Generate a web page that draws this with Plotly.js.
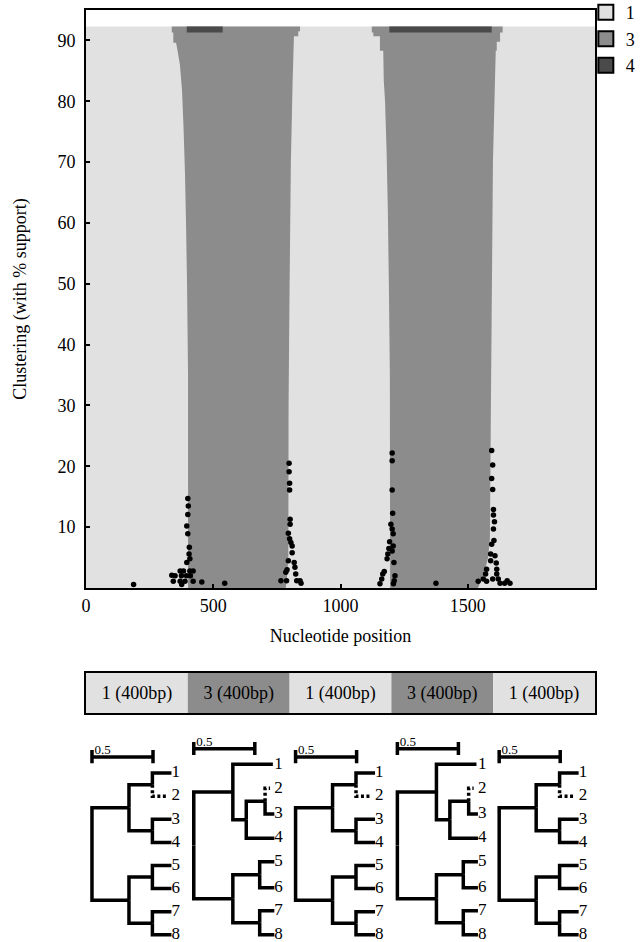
<!DOCTYPE html>
<html><head><meta charset="utf-8">
<script src="https://cdn.plot.ly/plotly-3.0.1.min.js"></script>
<style>body{margin:0;background:#fff}</style>
</head><body><div id="chart" style="width:642px;height:942px"></div>
<script>
// ---------------- data ----------------
const seqLength = 2000;
const maxSupport = 92.3;
const clusterNames = ['1', '3', '4'];
const clusterColors = ['#e1e1e1', '#8c8c8c', '#4a4a4a'];

// cluster-3 bands: boundary position (bp) at each support level
const band1LeftLevels  = [0, 35, 50, 60, 68, 76, 82, 86, 88, 89.6, 89.6, 91.3, 91.3, 92.3];
const band1LeftPos     = [401, 401, 397, 393, 389, 383, 377, 369, 361, 354, 343, 343, 337, 337];
const band1RightLevels = [0, 2, 5, 30, 50, 70, 83.4, 90.7, 90.7, 91.5, 91.5, 92.3];
const band1RightPos    = [785, 790, 795, 796, 800, 805, 812, 817, 834, 834, 841, 841];
const band2LeftLevels  = [0, 35, 50, 62, 72, 80, 83.4, 88.3, 88.3, 90.7, 90.7, 91.3, 91.3, 92.3];
const band2LeftPos     = [1195, 1194, 1190, 1186, 1181, 1175, 1170, 1168, 1155, 1155, 1129, 1129, 1123, 1123];
const band2RightLevels = [0, 1, 3, 5, 8, 30, 50, 70, 83.4, 88.3, 88.3, 89.8, 89.8, 91.3, 91.3, 92.3];
const band2RightPos    = [1540, 1550, 1568, 1580, 1587, 1591, 1595, 1599, 1607, 1610, 1614, 1614, 1627, 1627, 1637, 1637];

// cluster-4 strips at the top
const stripLevels = [91.3, 92.3];
const strip1Pos = [396, 537];
const strip2Pos = [1192, 1594];

// black dots (position, support)
const dotPos = [
  400, 402, 400, 396, 400, 406, 405, 408, 396, 370, 383, 408, 421, 337, 350, 375, 395, 410,
  343, 370, 389, 421, 455, 376, 187, 545,
  798, 798, 800, 800, 802, 802, 795, 800, 805, 810, 810, 795, 818, 790, 821, 824, 785, 766, 788, 828, 841, 845,
  1203, 1203, 1203, 1205, 1198, 1203, 1207, 1193, 1207, 1190, 1203, 1186, 1183, 1210, 1172, 1166, 1214, 1162, 1211, 1155, 1208, 1375,
  1594, 1598, 1594, 1598, 1601, 1601, 1605, 1601, 1603, 1594, 1590, 1607, 1590, 1612, 1574, 1614, 1570, 1614, 1561, 1598, 1620, 1541, 1574, 1627, 1645, 1666, 1655
];
const dotSupport = [
  14.7, 13.5, 12.1, 10.2, 8.9, 6.7, 5.6, 4.8, 4.2, 2.8, 2.8, 2.8, 2.8, 2.1, 2.0, 2.0, 2.0, 2.0,
  1.1, 1.1, 1.1, 1.1, 1.0, 0.6, 0.6, 0.8,
  20.5, 19.1, 17.2, 16.1, 11.3, 10.5, 9.0, 8.1, 7.5, 6.9, 5.8, 4.5, 4.2, 3.0, 3.4, 2.3, 2.6, 1.2, 1.2, 1.2, 1.2, 0.8,
  22.2, 20.9, 16.1, 12.3, 10.5, 9.7, 8.9, 7.6, 6.9, 6.5, 6.1, 5.6, 4.8, 4.2, 2.7, 2.3, 2.0, 1.5, 1.2, 0.7, 0.7, 0.8,
  22.6, 20.2, 18.0, 16.2, 12.9, 12.0, 10.9, 9.7, 7.8, 7.2, 5.6, 5.3, 4.5, 4.1, 3.1, 3.1, 2.3, 2.3, 1.5, 1.5, 1.5, 1.1, 1.1, 0.8, 0.8, 0.8, 1.2
];

const xTicks = [0, 500, 1000, 1500];
const yTicks = [10, 20, 30, 40, 50, 60, 70, 80, 90];

// segment bar
const segClusters = [1, 3, 1, 3, 1];
const segLengths = [400, 400, 400, 400, 400];
const segLabels = ['1 (400bp)', '3 (400bp)', '1 (400bp)', '3 (400bp)', '1 (400bp)'];

// trees: topologies (leaf indices), internal node depths in preorder, leaf tip depths, leaf rows
const topoA = [[[0, 1], [2, 3]], [[4, 5], [6, 7]]];
const depthsA = [0, 0.303, 0.495, 0.495, 0.303, 0.495, 0.495];
const tipsA = [0.651, 0.61, 0.651, 0.651, 0.651, 0.651, 0.651, 0.651];
const leafRowsA = [1, 2, 3, 4, 5, 6, 7, 8];
const scaleRowA = 0.3;

const topoB = [[0, [[1, 2], 3]], [[4, 5], [6, 7]]];
const depthsB = [0, 0.32, 0.43, 0.584, 0.32, 0.54, 0.54];
const tipsB = [0.648, 0.625, 0.66, 0.66, 0.66, 0.66, 0.66, 0.66];
const leafRowsB = [0.62, 1.66, 2.77, 3.82, 4.84, 5.96, 6.96, 8.0];
const scaleRowB = -0.05;

const leafNames = ['1', '2', '3', '4', '5', '6', '7', '8'];
const dottedLeaf = 1;
const scaleLength = 0.5;
const scaleLabel = '0.5';
const treeOrder = ['A', 'B', 'A', 'B', 'A'];

// ---------------- build ----------------
const FONT = 'Liberation Serif, Times New Roman, serif';
const traces = [];

// cluster 1 background
traces.push({
  type: 'scatter', mode: 'none', fill: 'toself', fillcolor: clusterColors[0],
  x: [0, seqLength, seqLength, 0], y: [0, 0, maxSupport, maxSupport],
  showlegend: false, hoverinfo: 'skip'
});

function bandPoly(ll, lp, rl, rp) {
  const x = lp.slice().concat(rp.slice().reverse());
  const y = ll.slice().concat(rl.slice().reverse());
  return {x, y};
}
const b1 = bandPoly(band1LeftLevels, band1LeftPos, band1RightLevels, band1RightPos);
const b2 = bandPoly(band2LeftLevels, band2LeftPos, band2RightLevels, band2RightPos);
traces.push({
  type: 'scatter', mode: 'none', fill: 'toself', fillcolor: clusterColors[1],
  x: b1.x.concat([null], b2.x), y: b1.y.concat([null], b2.y),
  showlegend: false, hoverinfo: 'skip'
});
function stripPoly(p) {
  return {x: [p[0], p[1], p[1], p[0]], y: [stripLevels[0], stripLevels[0], stripLevels[1], stripLevels[1]]};
}
const s1 = stripPoly(strip1Pos), s2 = stripPoly(strip2Pos);
traces.push({
  type: 'scatter', mode: 'none', fill: 'toself', fillcolor: clusterColors[2],
  x: s1.x.concat([null], s2.x), y: s1.y.concat([null], s2.y),
  showlegend: false, hoverinfo: 'skip'
});
traces.push({
  type: 'scatter', mode: 'markers', x: dotPos, y: dotSupport,
  marker: {size: 5.5, color: 'black'}, showlegend: false, hoverinfo: 'skip'
});
// legend entries
clusterNames.forEach((n, i) => {
  traces.push({
    type: 'scatter', mode: 'markers', x: [null], y: [null], name: n,
    marker: {symbol: 'square', size: 15, color: clusterColors[i], line: {color: 'black', width: 2}}
  });
});

// segment bar
const segBase = [];
segLengths.reduce((acc, v) => { segBase.push(acc); return acc + v; }, 0);
traces.push({
  type: 'bar', orientation: 'h', xaxis: 'x2', yaxis: 'y2',
  y: segLengths.map(() => 0), x: segLengths, base: segBase, width: 1,
  marker: {color: segClusters.map(c => clusterColors[clusterNames.indexOf(String(c))]), line: {width: 0}},
  text: segLabels, textposition: 'inside', insidetextanchor: 'middle', textangle: 0,
  constraintext: 'none', textfont: {family: FONT, size: 18, color: '#000000'},
  showlegend: false, hoverinfo: 'skip'
});

// trees
const treeDefs = {
  A: {topo: topoA, depths: depthsA, tips: tipsA, rows: leafRowsA, scaleRow: scaleRowA},
  B: {topo: topoB, depths: depthsB, tips: tipsB, rows: leafRowsB, scaleRow: scaleRowB}
};
treeOrder.forEach((key, ti) => {
  const T = treeDefs[key];
  const xa = 'x' + (ti + 3), ya = 'y3';
  const solid = {x: [], y: []}, dotted = {x: [], y: []};
  let k = 0;
  function walk(node) {
    if (typeof node === 'number') return {y: T.rows[node], d: T.tips[node], leaf: node};
    const d = T.depths[k++];
    const kids = node.map(walk);
    const ys = kids.map(c => c.y);
    const my = (Math.min(...ys) + Math.max(...ys)) / 2;
    kids.forEach(c => {
      const tgt = (c.leaf === dottedLeaf) ? dotted : solid;
      tgt.x.push(d, d, c.d, null);
      tgt.y.push(my, c.y, c.y, null);
    });
    return {y: my, d: d};
  }
  walk(T.topo);
  traces.push({type: 'scatter', mode: 'lines', xaxis: xa, yaxis: ya, x: solid.x, y: solid.y,
    line: {color: '#000000', width: 3.5}, showlegend: false, hoverinfo: 'skip', cliponaxis: false});
  traces.push({type: 'scatter', mode: 'lines', xaxis: xa, yaxis: ya, x: dotted.x, y: dotted.y,
    line: {color: '#000000', width: 3.5, dash: '3px,2.5px'}, showlegend: false, hoverinfo: 'skip', cliponaxis: false});
  const maxTip = Math.max(...T.tips);
  traces.push({type: 'scatter', mode: 'text', xaxis: xa, yaxis: ya,
    x: T.rows.map(() => maxTip), y: T.rows, text: leafNames, textposition: 'middle right',
    textfont: {family: FONT, size: 17, color: '#000000'}, showlegend: false, hoverinfo: 'skip', cliponaxis: false});
  // scale bar
  const sr = T.scaleRow;
  traces.push({type: 'scatter', mode: 'lines', xaxis: xa, yaxis: ya,
    x: [0, scaleLength, null, 0, 0, null, scaleLength, scaleLength],
    y: [sr, sr, null, sr - 0.3, sr + 0.27, null, sr - 0.3, sr + 0.27],
    line: {color: '#000000', width: 3.5}, showlegend: false, hoverinfo: 'skip', cliponaxis: false});
  traces.push({type: 'scatter', mode: 'text', xaxis: xa, yaxis: ya,
    x: [0.02], y: [sr], text: [scaleLabel], textposition: 'top right',
    textfont: {family: FONT, size: 13, color: '#000000'}, showlegend: false, hoverinfo: 'skip', cliponaxis: false});
});

// ---------------- layout ----------------
const layout = {
  width: 642, height: 942,
  margin: {l: 86, r: 47, t: 10, b: 0, autoexpand: false},
  paper_bgcolor: 'white', plot_bgcolor: 'white',
  font: {family: FONT, size: 18, color: '#000000'},
  showlegend: true,
  legend: {x: 0.982, xanchor: 'left', y: 1.017, yanchor: 'top', font: {family: FONT, size: 18},
    bgcolor: 'rgba(0,0,0,0)', itemwidth: 30, tracegroupgap: 0},
  xaxis: {domain: [0, 1], anchor: 'y', range: [0, seqLength], tickvals: xTicks,
    ticks: 'inside', ticklen: 4, tickwidth: 2, tickcolor: 'black',
    showline: true, mirror: true, linewidth: 2, linecolor: 'black',
    showgrid: false, zeroline: false, tickfont: {size: 18},
    title: {text: 'Nucleotide position', standoff: 15, font: {size: 18}}},
  yaxis: {domain: [0.3798, 1], anchor: 'x', range: [0, 95], tickvals: yTicks,
    ticks: 'inside', ticklen: 4, tickwidth: 2, tickcolor: 'black', ticklabelstandoff: 5,
    showline: true, mirror: true, linewidth: 2, linecolor: 'black',
    showgrid: false, zeroline: false, tickfont: {size: 18},
    title: {text: 'Clustering (with % support)', standoff: 26, font: {size: 18}}},
  xaxis2: {domain: [0, 1], anchor: 'y2', range: [0, seqLength], showline: true, mirror: true,
    linewidth: 2, linecolor: 'black', showticklabels: false, ticks: '', showgrid: false, zeroline: false},
  yaxis2: {domain: [0.2457, 0.2886], anchor: 'x2', range: [-0.5, 0.5], showline: true, mirror: true,
    linewidth: 2, linecolor: 'black', showticklabels: false, ticks: '', showgrid: false, zeroline: false},
  yaxis3: {domain: [0, 0.2167], anchor: 'x3', range: [8.31, -0.43], visible: false}
};
for (let i = 0; i < 5; i++) {
  layout['xaxis' + (i + 3)] = {domain: [i / 5, (i + 1) / 5], anchor: 'y3', range: [-0.049, 0.785], visible: false};
}

Plotly.newPlot('chart', traces, layout, {displayModeBar: false, staticPlot: true});
</script></body></html>
